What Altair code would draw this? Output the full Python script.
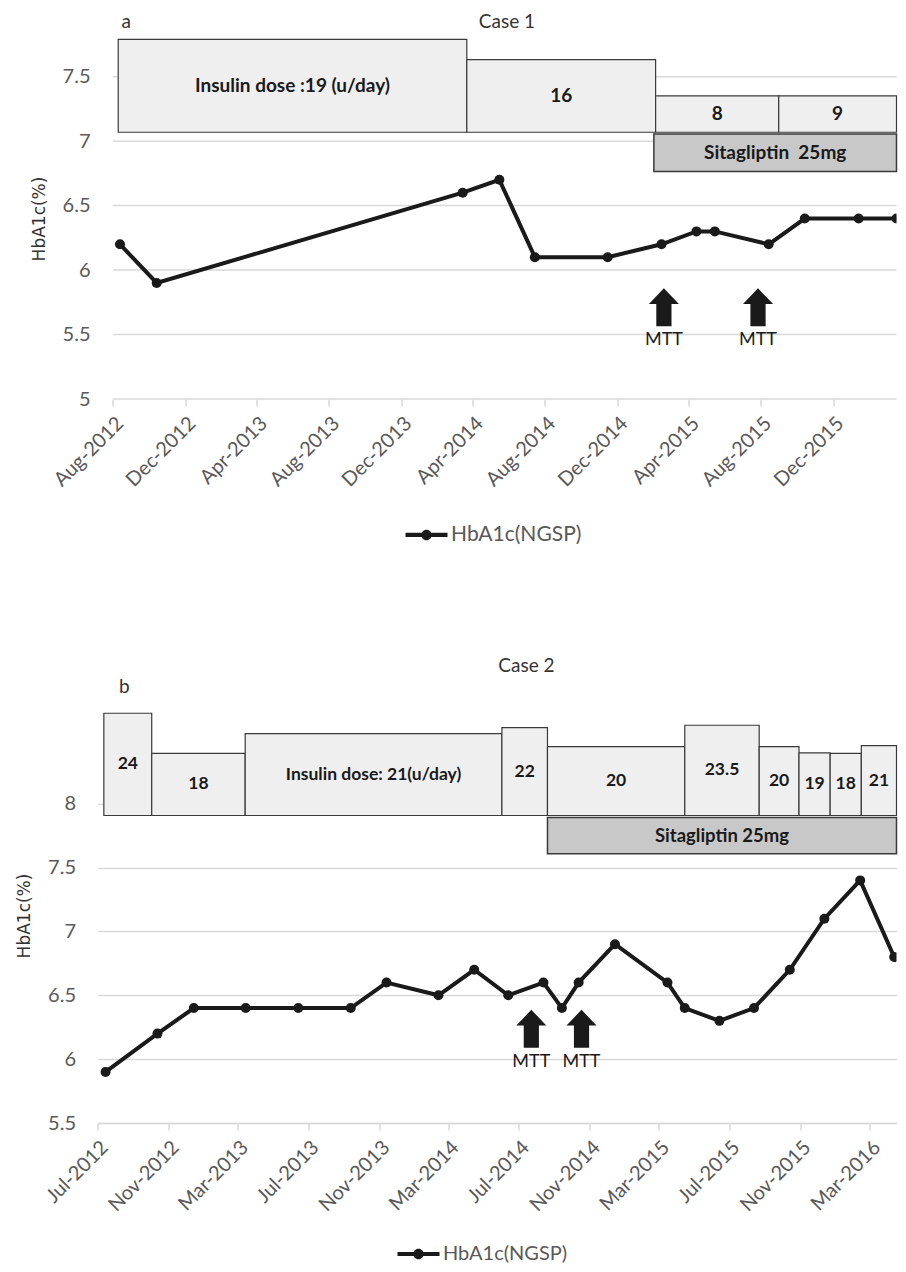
import altair as alt
import pandas as pd

FONT = "Lato"
TICK_COLOR = "#595959"
GRID = "#d9d9d9"
INK = "#1a1a1a"
BOX_FILL = "#efefef"
SITA_FILL = "#c8c8c8"
BOX_STROKE = "#3a3a3a"
SERIES = "HbA1c(NGSP)"

# ---------------- Case 1 ----------------
c1_dates = ["2012-08-13", "2012-10-14", "2014-03-15", "2014-05-16", "2014-07-15",
            "2014-11-15", "2015-02-14", "2015-04-14", "2015-05-15", "2015-08-14",
            "2015-10-14", "2016-01-13", "2016-03-17"]
c1_hba1c = [6.2, 5.9, 6.6, 6.7, 6.1, 6.1, 6.2, 6.3, 6.3, 6.2, 6.4, 6.4, 6.4]

c1_dose_start = ["2012-08-10", "2014-03-22", "2015-02-04", "2015-08-31"]
c1_dose_end = ["2014-03-22", "2015-02-04", "2015-08-31", "2016-03-17"]
c1_dose_top = [7.79, 7.633, 7.351, 7.351]
c1_dose_bottom = [7.069, 7.069, 7.069, 7.069]
c1_dose_label = ["Insulin dose :19 (u/day)", "16", "8", "9"]

c1_sita_start = ["2015-02-01"]
c1_sita_end = ["2016-03-17"]
c1_sita_top = [7.056]
c1_sita_bottom = [6.764]
c1_sita_label = ["Sitagliptin \u00a025mg"]

c1_mtt_dates = ["2015-02-18", "2015-07-27"]
c1_ticks = [(2012, 8), (2012, 12), (2013, 4), (2013, 8), (2013, 12), (2014, 4),
            (2014, 8), (2014, 12), (2015, 4), (2015, 8), (2015, 12)]
c1_axis_start = "2012-08-01"
c1_domain = [(2012, 7, 6), (2016, 3, 17)]
c1_yticks = [5, 5.5, 6, 6.5, 7, 7.5]

# ---------------- Case 2 ----------------
c2_dates = ["2012-07-15", "2012-10-13", "2012-12-15", "2013-03-15", "2013-06-14",
            "2013-09-13", "2013-11-14", "2014-02-12", "2014-04-15", "2014-06-13",
            "2014-08-13", "2014-09-14", "2014-10-13", "2014-12-15", "2015-03-16",
            "2015-04-15", "2015-06-14", "2015-08-13", "2015-10-14", "2015-12-13",
            "2016-02-13", "2016-04-12"]
c2_hba1c = [5.9, 6.2, 6.4, 6.4, 6.4, 6.4, 6.6, 6.5, 6.7, 6.5, 6.6, 6.4, 6.6, 6.9,
            6.6, 6.4, 6.3, 6.4, 6.7, 7.1, 7.4, 6.8]

c2_dose_start = ["2012-07-12", "2012-10-03", "2013-03-14", "2014-06-02", "2014-08-20",
                 "2015-04-15", "2015-08-22", "2015-10-30", "2015-12-23", "2016-02-15"]
c2_dose_end = ["2012-10-03", "2013-03-14", "2014-06-02", "2014-08-20", "2015-04-15",
               "2015-08-22", "2015-10-30", "2015-12-23", "2016-02-15", "2016-04-16"]
c2_dose_top = [8.709, 8.394, 8.55, 8.597, 8.448, 8.615, 8.448, 8.399, 8.394, 8.456]
c2_dose_bottom = [7.908] * 10
c2_dose_label = ["24", "18", "Insulin dose: 21(u/day)", "22", "20", "23.5", "20",
                 "19", "18", "21"]

c2_sita_start = ["2014-08-20"]
c2_sita_end = ["2016-04-16"]
c2_sita_top = [7.893]
c2_sita_bottom = [7.609]
c2_sita_label = ["Sitagliptin 25mg"]

c2_mtt_dates = ["2014-07-23", "2014-10-18"]
c2_ticks = [(2012, 7), (2012, 11), (2013, 3), (2013, 7), (2013, 11), (2014, 3),
            (2014, 7), (2014, 11), (2015, 3), (2015, 7), (2015, 11), (2016, 3)]
c2_domain = [(2012, 7, 1), (2016, 4, 16)]
c2_yticks = [5.5, 6, 6.5, 7, 7.5, 8]

ARROW = "M0,-1 L0.79,-0.17 L0.4,-0.17 L0.4,1 L-0.4,1 L-0.4,-0.17 L-0.79,-0.17 Z"
LEGEND_SYMBOL = ("M-2,-0.2 L2,-0.2 L2,0.2 L-2,0.2 Z "
                 "M-0.5,0 A0.5,0.5 0 1,1 0.5,0 A0.5,0.5 0 1,1 -0.5,0 Z")


def dt(y, m, d=1):
    return alt.DateTime(year=y, month=m, date=d, utc=True)


def iso(y, m, d):
    return f"{y:04d}-{m:02d}-{d:02d}"


def boxes(start, end, top, bottom, label):
    df = pd.DataFrame({"start": start, "end": end, "top": top, "bottom": bottom,
                       "label": label})
    s = pd.to_datetime(df["start"])
    e = pd.to_datetime(df["end"])
    df["mid"] = (s + (e - s) / 2).dt.strftime("%Y-%m-%dT%H:%M:%SZ")
    df["ymid"] = (df["top"] + df["bottom"]) / 2
    return df


def panel(dates, vals, dose, sita, mtt, ticks, domain, ydomain, yticks,
          width, height, arrow_y, mtt_y, letter, letter_xy, case, case_xy,
          legend_xy, dose_fs, sita_fs, label_pad, legend_fs, axis_start=None):
    xs = alt.Scale(type="utc", domain=[dt(*domain[0]), dt(*domain[1])], nice=False)
    ys = alt.Scale(domain=ydomain, nice=False, zero=False)
    own_grid = axis_start is not None
    xaxis = alt.Axis(values=[dt(y, m) for y, m in ticks], format="%b-%Y",
                     labelAngle=315, labelAlign="right", labelBaseline="top",
                     labelFont=FONT, labelFontSize=20, labelColor=TICK_COLOR,
                     labelPadding=7, tickColor=GRID, tickSize=7,
                     tickWidth=1.5, domain=not own_grid, domainColor=GRID,
                     domainWidth=1.5, grid=False, title=None, labelOverlap=False,
                     labelFlush=False)
    yaxis = alt.Axis(values=yticks, format="~g", title="HbA1c(%)",
                     titleFont="DejaVu Sans", titleFontSize=17, titleFontWeight="normal",
                     titleColor="#333333", titlePadding=14, labelFont=FONT,
                     labelFontSize=20, labelColor=TICK_COLOR, labelPadding=label_pad,
                     ticks=False, domain=False, grid=not own_grid, gridColor=GRID,
                     gridWidth=1.5)

    layers = []
    df = pd.DataFrame({"date": dates, "v": vals, "series": SERIES})
    if own_grid:
        gdf = pd.DataFrame({"g0": axis_start, "g1": iso(*domain[1]), "gv": yticks})
        grid = alt.Chart(gdf).mark_rule(color=GRID, strokeWidth=1.5).encode(
            x=alt.X("g0:T", scale=xs, axis=xaxis), x2="g1:T",
            y=alt.Y("gv:Q", scale=ys, axis=yaxis))
        layers.append(grid)
        line = alt.Chart(df).mark_line(color=INK, strokeWidth=4, clip=True).encode(
            x="date:T", y="v:Q")
    else:
        line = alt.Chart(df).mark_line(color=INK, strokeWidth=4, clip=True).encode(
            x=alt.X("date:T", scale=xs, axis=xaxis),
            y=alt.Y("v:Q", scale=ys, axis=yaxis))
    pts = alt.Chart(df).mark_circle(size=100, opacity=1, clip=True).encode(
        x="date:T", y="v:Q",
        color=alt.Color("series:N", scale=alt.Scale(domain=[SERIES], range=[INK]),
                        legend=alt.Legend(title=None, orient="none",
                                          legendX=legend_xy[0], legendY=legend_xy[1],
                                          symbolType=LEGEND_SYMBOL, symbolSize=441,
                                          symbolStrokeWidth=0, labelFont=FONT,
                                          labelFontSize=legend_fs,
                                          labelColor=TICK_COLOR,
                                          labelOffset=14, padding=0)),
    )
    drect = alt.Chart(dose).mark_rect(fill=BOX_FILL, stroke=BOX_STROKE,
                                      strokeWidth=1.2).encode(
        x="start:T", x2="end:T", y="top:Q", y2="bottom:Q")
    dtext = alt.Chart(dose).mark_text(font=FONT, fontSize=dose_fs, fontWeight="bold",
                                      color=INK).encode(
        x="mid:T", y="ymid:Q", text="label:N")
    srect = alt.Chart(sita).mark_rect(fill=SITA_FILL, stroke=BOX_STROKE,
                                      strokeWidth=1.5).encode(
        x="start:T", x2="end:T", y="top:Q", y2="bottom:Q")
    stext = alt.Chart(sita).mark_text(font=FONT, fontSize=sita_fs, fontWeight="bold",
                                      color=INK).encode(
        x="mid:T", y="ymid:Q", text="label:N")
    mdf = pd.DataFrame({"date": mtt})
    arrows = alt.Chart(mdf).mark_point(shape=ARROW, size=1444, filled=True,
                                       color=INK, opacity=1, strokeWidth=0).encode(
        x="date:T", y=alt.datum(arrow_y))
    mtext = alt.Chart(mdf).mark_text(text="MTT", font=FONT, fontSize=18,
                                     color=INK, baseline="middle").encode(
        x="date:T", y=alt.datum(mtt_y))
    let = alt.Chart(pd.DataFrame({"t": [letter]})).mark_text(
        font=FONT, fontSize=19, color="#333333", align="left", baseline="middle").encode(
        x=alt.value(letter_xy[0]), y=alt.value(letter_xy[1]), text="t:N")
    cas = alt.Chart(pd.DataFrame({"t": [case]})).mark_text(
        font=FONT, fontSize=19, color="#333333", align="center",
        baseline="middle").encode(
        x=alt.value(case_xy[0]), y=alt.value(case_xy[1]), text="t:N")
    layers += [line, drect, srect, dtext, stext, pts, arrows, mtext, let, cas]
    return alt.layer(*layers).properties(width=width, height=height)


top = panel(c1_dates, c1_hba1c,
            boxes(c1_dose_start, c1_dose_end, c1_dose_top, c1_dose_bottom, c1_dose_label),
            boxes(c1_sita_start, c1_sita_end, c1_sita_top, c1_sita_bottom, c1_sita_label),
            c1_mtt_dates, c1_ticks, c1_domain, [5, 7.8], c1_yticks,
            799, 361, 5.711, 5.455, "a", (24, -16.5), "Case 1", (409.5, -16.5),
            (318.5, 486.4), 19, 19, 7.5, 21, axis_start=c1_axis_start)

bottom = panel(c2_dates, c2_hba1c,
               boxes(c2_dose_start, c2_dose_end, c2_dose_top, c2_dose_bottom, c2_dose_label),
               boxes(c2_sita_start, c2_sita_end, c2_sita_top, c2_sita_bottom, c2_sita_label),
               c2_mtt_dates, c2_ticks, c2_domain, [5.5, 8.75], c2_yticks,
               799, 415, 6.238, 5.978, "b", (21.4, -20.8), "Case 2", (429, -42.5),
               (310.5, 535.5), 17.5, 18.5, 22, 20)

chart = alt.concat(top, bottom, columns=1, spacing=110, align="none").resolve_legend(
    color="independent").configure_view(stroke=None).properties(
    padding={"left": 7.5, "top": 4, "right": 0, "bottom": 0})

chart.save("out.html", embed_options={"renderer": "svg", "actions": False})
